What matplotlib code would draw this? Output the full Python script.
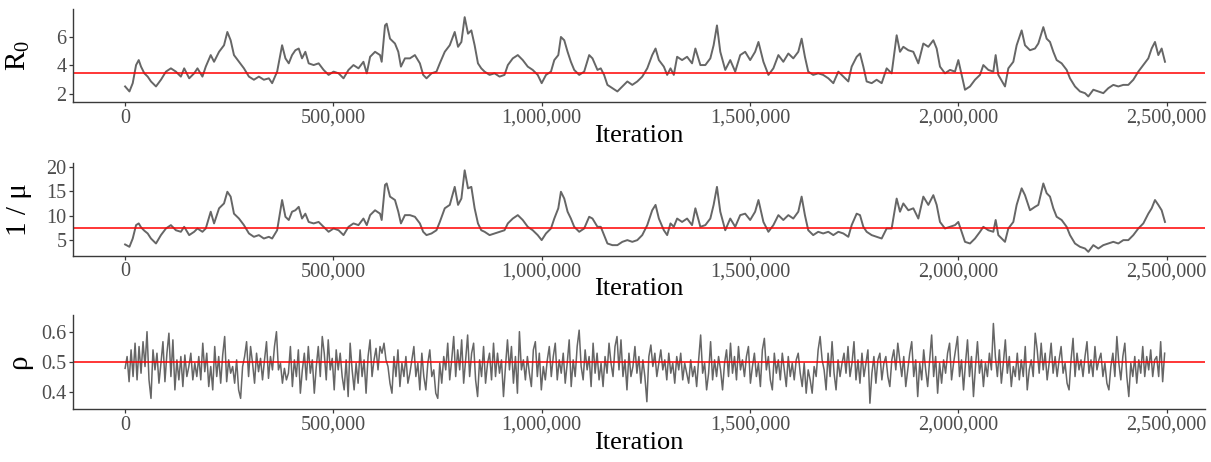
"""
plot.py

MCMC trace plots for R0, 1/mu and rho against iteration, with the
reference value of each parameter drawn as a red horizontal line.
Values were read off the original figure.
"""

import numpy as np
import matplotlib
matplotlib.use("Agg")
import matplotlib.pyplot as plt
from matplotlib.ticker import FuncFormatter


# ======================
# DATA
# ======================

# iteration (thousands) for the R0 and 1/mu traces
iter_k = [
    0, 10.4, 18.3, 26.3, 32.7, 38.2, 46.2, 54.2, 62.1, 74.1,
    86.0, 98.0, 109.9, 121.9, 133.8, 141.8, 153.8, 165.7, 173.7, 185.6,
    193.6, 205.5, 213.5, 225.5, 237.4, 245.4, 253.3, 261.3, 273.3, 285.2,
    297.2, 309.1, 321.1, 333.0, 345.0, 352.9, 364.9, 372.9, 376.8, 384.8,
    392.8, 400.7, 408.7, 416.7, 424.6, 432.6, 440.6, 452.5, 464.5, 476.4,
    488.4, 500.3, 512.3, 524.2, 536.2, 548.1, 560.1, 572.0, 580.0, 588.0,
    599.9, 611.9, 615.8, 623.8, 627.8, 635.8, 647.7, 655.7, 662.0, 671.6,
    683.6, 695.5, 707.5, 715.4, 723.4, 735.4, 747.3, 755.3, 767.2, 779.2,
    791.1, 799.1, 807.1, 815.0, 823.0, 831.0,
    838.9, 846.9, 854.8, 862.8, 874.8, 886.7, 898.7, 910.6, 918.6, 930.5,
    942.5, 954.4, 966.4, 978.3, 990.3, 999.8, 1010.2, 1022.1, 1030.1, 1039.7,
    1046.0, 1054.0, 1062.0, 1069.9, 1077.9, 1089.9, 1101.8, 1113.8, 1121.7, 1133.7,
    1141.6, 1149.6, 1157.6, 1169.5, 1181.5, 1193.4, 1205.4, 1217.3, 1229.3, 1241.2,
    1253.2, 1265.1, 1273.1, 1281.1, 1293.0, 1301.0, 1309.0, 1316.9, 1324.9, 1336.8,
    1348.8, 1360.7, 1368.7, 1380.7, 1392.6, 1404.6, 1412.5, 1420.5, 1428.5, 1440.4,
    1452.4, 1464.3, 1476.3, 1488.2, 1500.2, 1512.1, 1520.1, 1532.0, 1544.0, 1555.9,
    1567.9, 1579.8, 1591.8, 1603.7, 1615.7, 1623.7, 1631.6, 1639.6, 1651.5, 1663.5,
    1675.4,
    1687.8, 1699.8, 1711.8, 1723.8, 1735.8, 1743.8, 1755.8, 1763.8, 1771.8, 1779.8,
    1791.8, 1803.8, 1815.8, 1827.8, 1839.8, 1851.8, 1859.8, 1867.8, 1879.8, 1891.8,
    1903.8, 1915.8, 1927.8, 1939.8, 1947.8, 1955.8, 1967.8, 1979.8, 1991.8, 1999.8,
    2007.8, 2015.8, 2027.8, 2039.8, 2051.8, 2059.8, 2071.8, 2083.8, 2089.4, 2095.8,
    2111.8, 2119.8, 2131.8, 2139.8, 2151.8, 2159.8, 2171.8, 2183.8, 2191.8, 2203.8,
    2211.8, 2219.8, 2227.8, 2235.8, 2247.8, 2259.8, 2267.8, 2279.8, 2291.8, 2303.8,
    2311.8, 2323.8, 2335.8, 2347.8, 2359.8, 2371.8, 2383.8, 2395.8, 2407.8, 2419.8,
    2431.8, 2443.8, 2455.8, 2463.8, 2471.8, 2479.8, 2487.8, 2495.8,
]

r0_trace = [
    2.53, 2.18, 2.76, 4.03, 4.38, 3.92, 3.45, 3.22, 2.88, 2.53,
    3.0, 3.57, 3.8, 3.57, 3.22, 3.8, 3.1, 3.45, 3.8, 3.22,
    3.92, 4.73, 4.26, 4.96, 5.42, 6.35, 5.77, 4.73, 4.26, 3.8,
    3.22, 3.0, 3.22, 3.0, 3.1, 2.76, 3.57, 4.84, 5.42, 4.5,
    4.15, 4.73, 5.07, 5.19, 4.5, 4.96, 4.15, 4.03, 4.15, 3.69,
    3.34, 3.57, 3.45, 3.1, 3.69, 4.03, 3.8, 4.26, 3.45, 4.61,
    4.96, 4.73, 4.26, 6.81, 6.93, 5.88, 5.54, 4.96, 3.92, 4.5,
    4.5, 4.73, 4.15, 3.34, 3.1, 3.45, 3.57, 4.15, 4.96, 5.42,
    6.35, 5.31, 5.65, 7.39, 6.23, 6.46,
    5.42, 4.15, 3.8, 3.57, 3.34, 3.45, 3.22, 3.34, 4.03, 4.5,
    4.73, 4.38, 3.92, 3.69, 3.34, 2.76, 3.34, 3.57, 4.38, 4.73,
    6.0, 5.77, 4.96, 4.26, 3.69, 3.34, 3.57, 4.73, 4.5, 3.69,
    3.8, 3.34, 2.64, 2.41, 2.18, 2.53, 2.88, 2.64, 2.88, 3.22,
    3.8, 4.73, 5.19, 4.38, 3.92, 3.34, 3.8, 3.34, 4.61, 4.38,
    4.61, 4.15, 5.19, 4.03, 4.03, 4.5, 5.42, 6.81, 4.96, 3.69,
    4.38, 3.57, 4.73, 4.96, 4.38, 4.96, 5.65, 4.26, 3.34, 3.8,
    4.73, 4.26, 4.84, 4.5, 4.96, 5.88, 4.61, 3.57, 3.34, 3.45,
    3.34,
    3.1, 2.76, 3.57, 3.22, 2.88, 3.92, 4.61, 4.84, 3.92, 2.88,
    2.76, 3.0, 2.76, 3.8, 3.45, 6.12, 4.96, 5.31, 5.07, 4.96,
    4.15, 5.54, 5.31, 5.77, 5.19, 3.92, 3.45, 3.69, 3.57, 4.38,
    3.34, 2.3, 2.53, 3.0, 3.34, 4.03, 3.69, 3.57, 4.73, 3.34,
    2.53, 3.8, 4.26, 5.42, 6.46, 5.42, 5.07, 5.19, 5.54, 6.69,
    5.88, 5.65, 4.96, 4.38, 4.15, 3.69, 3.1, 2.53, 2.18, 2.06,
    1.83, 2.3, 2.18, 2.06, 2.41, 2.64, 2.53, 2.64, 2.64, 3.0,
    3.57, 4.03, 4.5, 5.19, 5.65, 4.73, 5.19, 4.26,
]

inv_mu_trace = [
    4.08, 3.6, 5.3, 8.05, 8.4, 7.6, 6.9, 6.34, 5.3, 4.28,
    6.0, 7.36, 8.05, 7.0, 6.68, 7.7, 6.0, 6.68, 7.36, 6.68,
    7.36, 10.8, 8.4, 11.5, 12.5, 14.9, 13.9, 10.4, 9.4, 8.05,
    6.34, 5.65, 6.0, 5.3, 5.65, 5.3, 7.0, 11.1, 13.2, 9.76,
    9.1, 10.8, 11.1, 11.8, 9.4, 10.4, 8.7, 8.4, 8.7, 7.7,
    6.68, 7.36, 7.0, 6.0, 7.7, 8.4, 8.05, 9.4, 8.05, 10.1,
    11.1, 10.4, 9.1, 16.3, 16.6, 13.9, 13.2, 10.8, 8.4, 10.1,
    10.1, 9.76, 8.4, 6.68, 6.0, 6.34, 7.0, 8.7, 11.5, 12.2,
    15.9, 12.2, 13.5, 19.3, 15.6, 15.9,
    11.5, 8.4, 7.0, 6.68, 6.0, 6.34, 6.68, 7.0, 8.4, 9.4,
    10.1, 9.1, 7.7, 7.0, 6.0, 4.97, 6.34, 7.36, 9.4, 11.5,
    14.9, 13.5, 10.8, 9.4, 7.7, 6.68, 7.36, 9.76, 9.4, 7.7,
    7.7, 6.0, 4.28, 3.94, 3.94, 4.62, 4.97, 4.62, 4.97, 6.0,
    8.05, 11.1, 12.2, 9.4, 7.0, 6.0, 8.4, 7.7, 9.4, 8.7,
    9.4, 8.05, 11.5, 7.7, 8.05, 9.4, 12.2, 15.9, 10.8, 7.0,
    9.4, 7.7, 10.1, 10.4, 9.1, 10.8, 13.2, 8.7, 6.68, 8.05,
    10.1, 9.1, 10.1, 9.4, 10.8, 13.9, 10.1, 7.0, 6.0, 6.68,
    6.34,
    6.68, 6.0, 6.68, 6.34, 5.65, 8.05, 10.4, 10.1, 7.7, 6.68,
    6.0, 5.65, 5.3, 7.36, 7.36, 13.5, 10.8, 12.5, 11.1, 11.5,
    9.4, 13.9, 12.2, 14.2, 12.2, 8.7, 7.36, 7.7, 8.05, 8.7,
    6.68, 4.62, 4.28, 5.3, 6.68, 7.7, 7.0, 6.68, 9.1, 6.0,
    4.62, 7.36, 8.7, 12.2, 15.6, 14.2, 11.1, 11.8, 12.2, 16.6,
    14.6, 13.9, 11.5, 9.76, 9.1, 7.7, 6.0, 4.28, 3.6, 3.25,
    2.57, 3.94, 3.25, 3.94, 4.28, 4.62, 4.28, 4.97, 4.97, 6.0,
    7.36, 8.4, 10.4, 11.5, 13.2, 12.2, 11.1, 8.7,
]

# rho is sampled evenly from the first to the last iteration
rho_first_iter = 0
rho_last_iter = 2_495_000
rho_trace = [
    0.479, 0.518, 0.435, 0.540, 0.452, 0.562, 0.441, 0.551, 0.463, 0.567,
    0.485, 0.600, 0.441, 0.380, 0.540, 0.474, 0.529, 0.430, 0.496, 0.567,
    0.435, 0.529, 0.595, 0.452, 0.573, 0.408, 0.507, 0.441, 0.518, 0.419,
    0.523, 0.452, 0.485, 0.529, 0.441, 0.496, 0.452, 0.518, 0.441, 0.562,
    0.468, 0.529, 0.419, 0.485, 0.408, 0.551, 0.452, 0.518, 0.430, 0.523,
    0.584, 0.435, 0.507, 0.463, 0.485, 0.430, 0.507, 0.408, 0.380, 0.485,
    0.518, 0.567, 0.452, 0.551, 0.496, 0.430, 0.529, 0.468, 0.512, 0.441,
    0.507, 0.567, 0.446, 0.518, 0.474, 0.551, 0.600, 0.474, 0.496, 0.430,
    0.479, 0.441, 0.463, 0.551, 0.419, 0.507, 0.452, 0.540, 0.397, 0.474,
    0.529, 0.441, 0.551, 0.463, 0.507, 0.397, 0.485, 0.551, 0.452, 0.584,
    0.529, 0.441, 0.573, 0.474, 0.512, 0.408, 0.540, 0.474, 0.529, 0.452,
    0.408, 0.507, 0.386, 0.562, 0.474, 0.408, 0.496, 0.430, 0.540, 0.452,
    0.507, 0.397, 0.518, 0.573, 0.452, 0.507, 0.545, 0.474, 0.551, 0.529,
    0.562, 0.507, 0.485, 0.430, 0.397, 0.518, 0.452, 0.540, 0.419, 0.496,
    0.452, 0.518, 0.430, 0.463, 0.507, 0.551, 0.452, 0.496, 0.408, 0.529,
    0.452, 0.408, 0.496, 0.540, 0.452, 0.474, 0.397, 0.380, 0.496, 0.430,
    0.518, 0.474, 0.562, 0.441, 0.507, 0.584, 0.452, 0.540, 0.474, 0.573,
    0.430, 0.507, 0.589, 0.452, 0.529,
    0.562, 0.441, 0.386, 0.507, 0.452, 0.551, 0.430, 0.496, 0.529, 0.441,
    0.562, 0.452, 0.529, 0.463, 0.507, 0.386, 0.485, 0.573, 0.474, 0.551,
    0.430, 0.518, 0.397, 0.600, 0.474, 0.507, 0.441, 0.518, 0.463, 0.419,
    0.540, 0.567, 0.452, 0.529, 0.408, 0.485, 0.441, 0.507, 0.551, 0.452,
    0.518, 0.562, 0.441, 0.507, 0.463, 0.529, 0.430, 0.496, 0.573, 0.419,
    0.507, 0.452, 0.551, 0.605, 0.485, 0.441, 0.540, 0.474, 0.518, 0.419,
    0.562, 0.463, 0.529, 0.441, 0.496, 0.419, 0.518, 0.463, 0.562, 0.496,
    0.452, 0.551, 0.584, 0.474, 0.573, 0.452, 0.507, 0.408, 0.529, 0.452,
    0.485, 0.551, 0.463, 0.518, 0.430, 0.507, 0.452, 0.369, 0.518, 0.556,
    0.485, 0.529, 0.452, 0.496, 0.540, 0.474, 0.507, 0.441, 0.529, 0.463,
    0.496, 0.430, 0.518, 0.474, 0.529, 0.441, 0.496, 0.463, 0.430, 0.507,
    0.452, 0.485, 0.419, 0.507, 0.589, 0.463, 0.496, 0.408, 0.463, 0.567,
    0.441, 0.507, 0.452, 0.518, 0.474, 0.408, 0.496, 0.540, 0.452, 0.562,
    0.463, 0.518, 0.441, 0.551, 0.474, 0.507, 0.452, 0.518, 0.551, 0.430,
    0.485, 0.529, 0.452, 0.496, 0.419, 0.540, 0.578, 0.474, 0.518, 0.441,
    0.408, 0.529, 0.463, 0.507, 0.441, 0.529, 0.474, 0.419, 0.518, 0.452,
    0.496, 0.441, 0.507, 0.529, 0.463, 0.419, 0.496, 0.397, 0.474, 0.441,
    0.397, 0.485, 0.452, 0.540, 0.584, 0.507,
    0.474, 0.408, 0.529, 0.452, 0.567, 0.463, 0.408, 0.507, 0.452, 0.496,
    0.529, 0.463, 0.551, 0.452, 0.496, 0.567, 0.441, 0.507, 0.430, 0.529,
    0.452, 0.496, 0.540, 0.364, 0.463, 0.518, 0.430, 0.507, 0.529, 0.441,
    0.496, 0.518, 0.452, 0.419, 0.507, 0.540, 0.474, 0.562, 0.507, 0.452,
    0.518, 0.419, 0.474, 0.529, 0.567, 0.452, 0.507, 0.386, 0.496, 0.441,
    0.540, 0.474, 0.419, 0.507, 0.589, 0.452, 0.518, 0.397, 0.496, 0.430,
    0.507, 0.463, 0.529, 0.562, 0.441, 0.496, 0.540, 0.584, 0.452, 0.507,
    0.408, 0.496, 0.573, 0.452, 0.518, 0.386, 0.485, 0.567, 0.463, 0.507,
    0.419, 0.496, 0.452, 0.529, 0.474, 0.627, 0.518, 0.452, 0.540, 0.430,
    0.496, 0.573, 0.463, 0.518, 0.419, 0.485, 0.452, 0.529, 0.441, 0.507,
    0.452, 0.551, 0.408, 0.474, 0.507, 0.452, 0.595, 0.540, 0.463, 0.562,
    0.474, 0.529, 0.441, 0.496, 0.562, 0.463, 0.518, 0.452, 0.507, 0.551,
    0.463, 0.496, 0.430, 0.408, 0.507, 0.578, 0.452, 0.529, 0.474, 0.507,
    0.452, 0.518, 0.567, 0.463, 0.507, 0.452, 0.551, 0.474, 0.507, 0.529,
    0.452, 0.496, 0.430, 0.408, 0.485, 0.529, 0.452, 0.584, 0.496, 0.441,
    0.518, 0.562, 0.452, 0.386, 0.496, 0.452, 0.518, 0.430, 0.507, 0.463,
    0.551, 0.452, 0.518, 0.474, 0.540, 0.452, 0.507, 0.518, 0.452, 0.567,
    0.435, 0.529,
]

# reference (true) parameter values
r0_true = 3.5
inv_mu_true = 7.5
rho_true = 0.5

x_ticks = [0, 500_000, 1_000_000, 1_500_000, 2_000_000, 2_500_000]
r0_ticks = [2, 4, 6]
inv_mu_ticks = [5, 10, 15, 20]
rho_ticks = [0.4, 0.5, 0.6]


# ======================
# STYLE
# ======================

TRACE_COLOR = "#666666"
TRUE_COLOR = "red"
AXIS_COLOR = "#3a3a3a"
TICK_LABEL_COLOR = "#4d4d4d"
SERIF = ["Liberation Serif", "DejaVu Serif"]

plt.rcParams["font.family"] = SERIF
plt.rcParams["mathtext.fontset"] = "custom"
plt.rcParams["mathtext.rm"] = "Liberation Serif"
plt.rcParams["mathtext.it"] = "Liberation Serif:italic"


def style_axis(ax, ylim, yticks, ytick_fmt, ylabel):
    ax.set_xlim(-125_000, 2_592_000)
    ax.set_ylim(*ylim)

    for side in ("top", "right"):
        ax.spines[side].set_visible(False)
    for side in ("left", "bottom"):
        ax.spines[side].set_color(AXIS_COLOR)
        ax.spines[side].set_linewidth(1.0)

    ax.set_xticks(x_ticks)
    ax.xaxis.set_major_formatter(FuncFormatter(lambda v, _: f"{v:,.0f}"))
    ax.set_yticks(yticks)
    ax.yaxis.set_major_formatter(FuncFormatter(ytick_fmt))

    ax.tick_params(axis="both", length=3.2, width=0.9, color=AXIS_COLOR,
                   labelcolor=TICK_LABEL_COLOR, labelsize=14.6)
    ax.tick_params(axis="x", pad=1.5)
    ax.tick_params(axis="y", pad=1.5)

    ax.set_xlabel("Iteration", fontsize=19, color="black", labelpad=-2)
    ax.set_ylabel(ylabel, fontsize=21, color="black")
    # y titles line up across the three panels, like the original
    ax.yaxis.set_label_coords(-0.036, 0.5)


# ======================
# PLOTTING
# ======================

def main():
    iterations = np.array(iter_k) * 1000
    rho_iterations = np.linspace(rho_first_iter, rho_last_iter, len(rho_trace))

    fig = plt.figure(figsize=(12.11, 4.62), dpi=100)

    left, width = 0.0603, 0.9348
    ax1 = fig.add_axes([left, 0.7786, width, 0.2019])
    ax2 = fig.add_axes([left, 0.4465, width, 0.2007])
    ax3 = fig.add_axes([left, 0.1141, width, 0.2041])

    ax1.plot(iterations, r0_trace, color=TRACE_COLOR, linewidth=1.4)
    ax1.axhline(r0_true, color=TRUE_COLOR, linewidth=1.1)
    style_axis(ax1, (1.42, 7.96), r0_ticks, lambda v, _: f"{v:.0f}",
               r"$\mathrm{R}_0$")

    ax2.plot(iterations, inv_mu_trace, color=TRACE_COLOR, linewidth=1.4)
    ax2.axhline(inv_mu_true, color=TRUE_COLOR, linewidth=1.1)
    style_axis(ax2, (1.77, 20.8), inv_mu_ticks, lambda v, _: f"{v:.0f}",
               "1 / μ")

    ax3.plot(rho_iterations, rho_trace, color=TRACE_COLOR, linewidth=1.1)
    ax3.axhline(rho_true, color=TRUE_COLOR, linewidth=1.1)
    style_axis(ax3, (0.344, 0.655), rho_ticks, lambda v, _: f"{v:.1f}",
               "ρ")

    fig.savefig("out.png", dpi=100)


if __name__ == "__main__":
    main()
